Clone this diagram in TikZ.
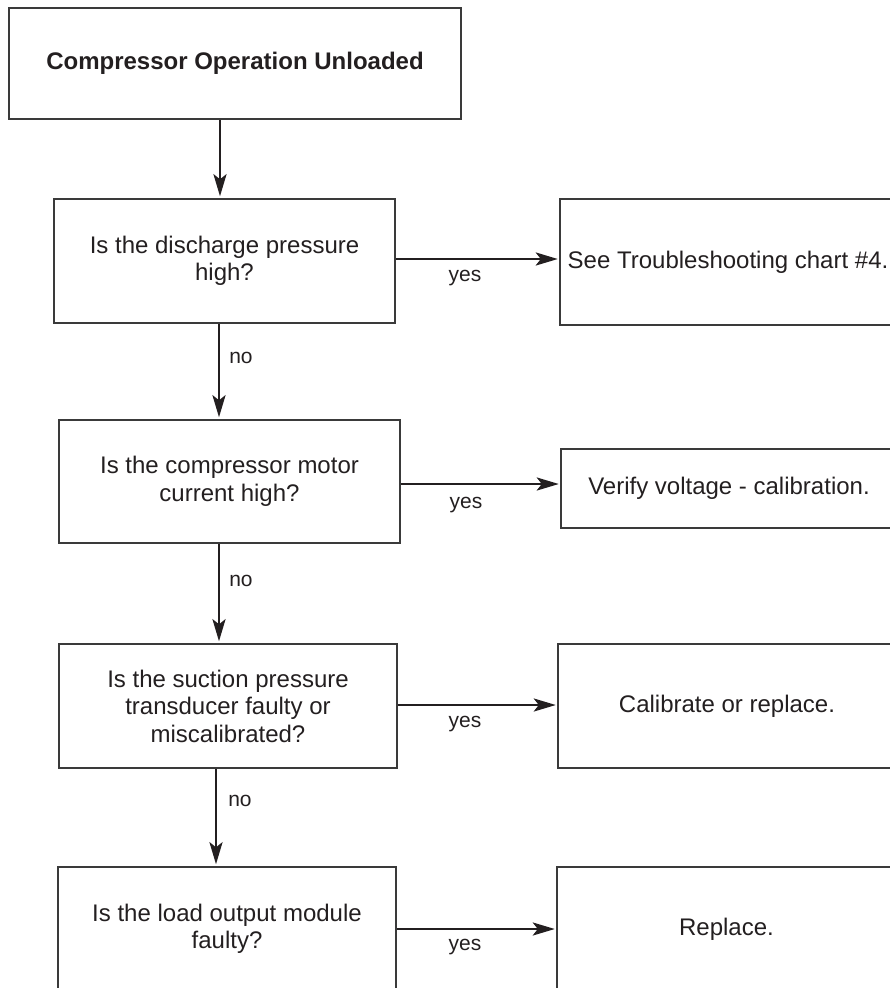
\documentclass[tikz,border=0pt]{standalone}
\usepackage{fontspec}
\setmainfont{Liberation Sans}
\usetikzlibrary{arrows.meta}
\definecolor{ink}{HTML}{231F20}
\definecolor{frame}{HTML}{3A3A3A}
\begin{document}
\begin{tikzpicture}[x=1pt,y=-1pt,
  textbox/.style={align=center, inner sep=0pt, text=ink,
    font=\fontsize{24}{27.5}\selectfont},
  box/.style={textbox, draw=frame, line width=1.5pt},
  edgeframe/.style={draw=frame, line width=1.5pt},
  flow/.style={draw=ink, line width=2.8pt,
    -{Stealth[length=22pt,width=13pt,inset=5pt]}, shorten >=2pt},
  lbl/.style={text=ink, font=\fontsize{21}{24}\selectfont, inner sep=0pt}]
\useasboundingbox (0,0) rectangle (890,988);

% question column
\node[box, minimum width=452pt, minimum height=111pt,
  font=\fontsize{24}{27.5}\selectfont\bfseries] (start) at (235,63.5)
  {Compressor Operation Unloaded};
\node[box, minimum width=341pt, minimum height=124pt] (q1) at (224.5,261)
  {Is the discharge pressure\\high?};
\node[box, minimum width=341pt, minimum height=123pt] (q2) at (229.5,481.5)
  {Is the compressor motor\\current high?};
\node[box, minimum width=338pt, minimum height=124pt] (q3) at (228,706)
  {Is the suction pressure\\transducer faulty or\\miscalibrated?};
\node[box, minimum width=338pt, minimum height=124pt] (q4) at (227,929)
  {Is the load output module\\faulty?};

% action column (boxes run past the right margin)
\node[textbox, minimum width=336pt, minimum height=126pt] (r1) at (728,262)
  {See Troubleshooting chart \#4.};
\node[textbox, minimum width=336pt, minimum height=79pt] (r2) at (729,488.5)
  {Verify voltage - calibration.};
\node[textbox, minimum width=338pt, minimum height=124pt] (r3) at (727,706)
  {Calibrate or replace.};
\node[textbox, minimum width=339pt, minimum height=124pt] (r4) at (726.5,929)
  {Replace.};
\foreach \r in {r1,r2,r3,r4}
  \draw[edgeframe] ([xshift=40pt]\r.north east) -- (\r.north west)
    -- (\r.south west) -- ([xshift=40pt]\r.south east);

% connector lanes
\coordinate (v0) at (220,0);
\coordinate (v1) at (219,0);
\coordinate (v2) at (219,0);
\coordinate (v3) at (216,0);
\coordinate (h1) at (0,259);
\coordinate (h2) at (0,484);
\coordinate (h3) at (0,705);
\coordinate (h4) at (0,929);

% "no" path
\draw[flow] (start.south -| v0) -- (q1.north -| v0);
\draw[flow] (q1.south -| v1) -- (q2.north -| v1);
\draw[flow] (q2.south -| v2) -- (q3.north -| v2);
\draw[flow] (q3.south -| v3) -- (q4.north -| v3);

% "yes" branches
\draw[flow] (q1.east |- h1) -- (r1.west |- h1);
\draw[flow] (q2.east |- h2) -- (r2.west |- h2);
\draw[flow] (q3.east |- h3) -- (r3.west |- h3);
\draw[flow] (q4.east |- h4) -- (r4.west |- h4);

% labels
\node[lbl] (no1) at (241,358) {no};
\node[lbl] (no2) at (241,581) {no};
\node[lbl] (no3) at (240,801) {no};
\node[lbl] (yes1) at (465,278) {yes};
\node[lbl] (yes2) at (466,505) {yes};
\node[lbl] (yes3) at (465,724) {yes};
\node[lbl] (yes4) at (465,947) {yes};
\end{tikzpicture}
\end{document}
